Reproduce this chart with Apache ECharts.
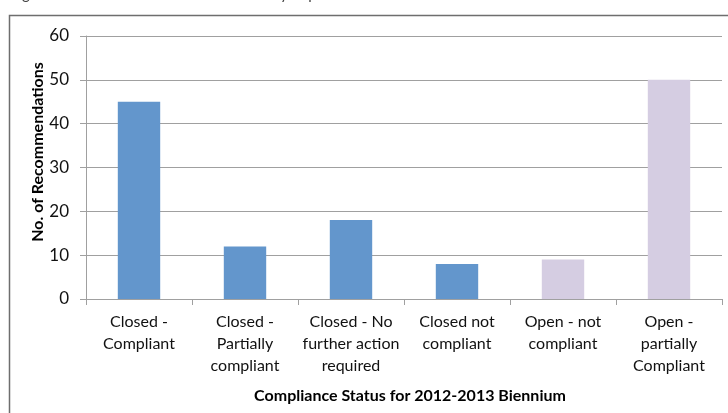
<!DOCTYPE html>
<html>
<head>
<meta charset="utf-8">
<script src="https://cdn.jsdelivr.net/npm/echarts@6/dist/echarts.min.js"></script>
<style>
html,body{margin:0;padding:0;background:#fff;}
#chart{width:728px;height:413px;}
</style>
</head>
<body>
<div id="chart"></div>
<script>
const categories = ['Closed -\nCompliant', 'Closed -\nPartially\ncompliant', 'Closed - No\nfurther action\nrequired', 'Closed not\ncompliant', 'Open - not\ncompliant', 'Open -\npartially\nCompliant'];
const values = [45, 12, 18, 8, 9, 50];
const status = ['closed', 'closed', 'closed', 'closed', 'open', 'open'];
const yTicks = [0, 10, 20, 30, 40, 50, 60];
const xTitle = 'Compliance Status for 2012-2013 Biennium';
const yTitle = 'No. of Recommendations';
const caption = 'Figure 3: Number of Recommendations by Implementation Status';

const colorFor = { closed: '#6396CC', open: '#D5CDE2' };
const font = 'Lato, "Open Sans", sans-serif';

const chart = echarts.init(document.getElementById('chart'), null, { renderer: 'canvas' });
chart.setOption({
  animation: false,
  grid: { left: 86, right: 6, top: 36, bottom: 114, containLabel: false },
  xAxis: {
    type: 'category',
    data: categories,
    axisLine: { show: true, lineStyle: { color: '#A0A0A0', width: 1 } },
    axisTick: { show: true, length: 6, lineStyle: { color: '#A0A0A0' } },
    axisLabel: { color: '#111', fontFamily: font, fontSize: 16, lineHeight: 22, margin: 12, interval: 0 }
  },
  yAxis: {
    type: 'value',
    min: yTicks[0],
    max: yTicks[yTicks.length - 1],
    interval: 10,
    axisLine: { show: true, lineStyle: { color: '#A0A0A0', width: 1 } },
    axisTick: { show: true, length: 6, lineStyle: { color: '#A0A0A0' } },
    axisLabel: { color: '#111', fontFamily: font, fontSize: 17, margin: 17 },
    splitLine: { show: true, lineStyle: { color: '#A0A0A0', width: 1 } }
  },
  series: [{
    type: 'bar',
    barWidth: '40%',
    data: values.map((v, i) => ({ value: v, itemStyle: { color: colorFor[status[i]] } }))
  }],
  graphic: [
    { type: 'rect', left: 7, top: 13, shape: { width: 900, height: 600 }, style: { fill: 'none', stroke: '#6E6E6E', lineWidth: 1.5 }, z: -1 },
    { type: 'text', left: 10, top: -13, style: { text: caption, fill: '#444', font: '15px ' + font } },
    { type: 'text', x: 38, y: 152, rotation: Math.PI / 2, style: { text: yTitle, fill: '#000', font: 'bold 16px ' + font, align: 'center', verticalAlign: 'middle' } },
    { type: 'text', x: 410, y: 396, style: { text: xTitle, fill: '#000', font: 'bold 16px ' + font, align: 'center', verticalAlign: 'middle' } }
  ]
});
</script>
</body>
</html>
